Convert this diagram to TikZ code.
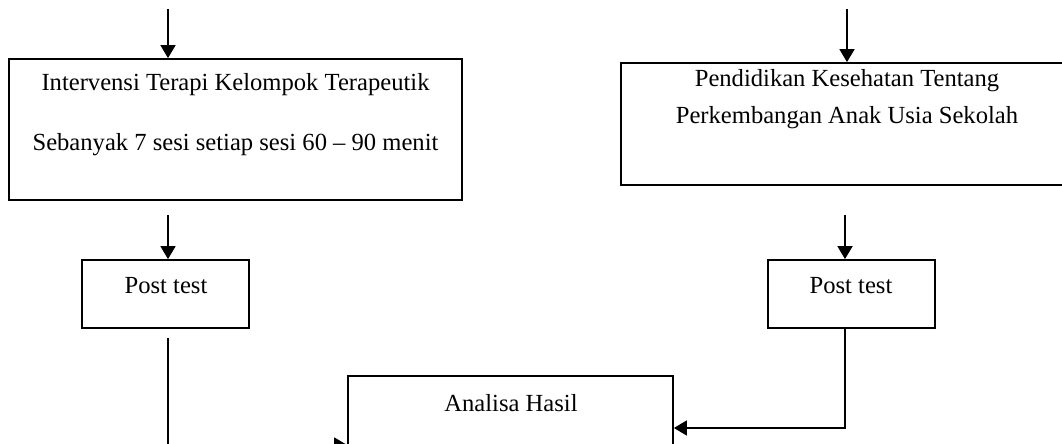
\documentclass[tikz,border=0pt]{standalone}
\usepackage{fontspec}
\setmainfont{Liberation Serif}
\usepackage{tikz}
\usetikzlibrary{arrows.meta}

\begin{document}
\begin{tikzpicture}[x=0.5pt,y=-0.5pt,line width=0.9pt,
    box/.style={draw,rectangle,inner sep=0pt},
    txt/.style={inner sep=0pt,font=\fontsize{12.3}{14}\selectfont},
    >={Triangle[length=6.5pt,width=7.5pt]}]
  \useasboundingbox (0,0) rectangle (1062,444);
  \clip (0,0) rectangle (1062,444);
  \node [box,minimum width=226.5pt,minimum height=70.5pt] (ik) at (235.5,129.5) {};
  \node [box,minimum width=226pt,minimum height=61pt] (pk) at (847,124) {};
  \node [box,minimum width=83.5pt,minimum height=34pt] (pt1) at (165.5,294) {};
  \node [box,minimum width=83.5pt,minimum height=34pt] (pt2) at (851.5,294) {};
  \node [box,minimum width=162.5pt,minimum height=69pt] (ah) at (510.5,445) {};
  \node [txt] at (235.5,85) {Intervensi Terapi Kelompok Terapeutik};
  \node [txt] at (235.5,145) {Sebanyak 7 sesi setiap sesi 60 – 90 menit};
  \node [txt] at (847,81) {Pendidikan Kesehatan Tentang};
  \node [txt] at (847,118) {Perkembangan Anak Usia Sekolah};
  \node [txt] at (166,286) {Post test};
  \node [txt] at (851,286) {Post test};
  \node [txt] at (511,403) {Analisa Hasil};
  \coordinate (in1) at (168,9);
  \coordinate (in2) at (847,9);
  \coordinate (mid1) at (168,215);
  \coordinate (mid2) at (845,215);
  \coordinate (out1) at (168,338);
  \coordinate (turn2) at (845,428);
  \path[->]
    (in1) edge (in1 |- ik.north)
    (in2) edge (in2 |- pk.north)
    (mid1) edge (mid1 |- pt1.north)
    (mid2) edge (mid2 |- pt2.north);
  \draw[->] (out1) |- (ah.west);
  \draw[->] (mid2 |- pt2.south) |- (ah.east |- turn2);
\end{tikzpicture}
\end{document}
